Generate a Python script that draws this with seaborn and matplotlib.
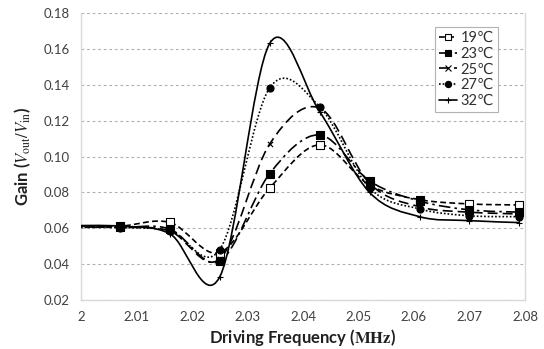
import numpy as np
import pandas as pd
import matplotlib
matplotlib.use("Agg")
import matplotlib.pyplot as plt
import seaborn as sns
from matplotlib.path import Path
from matplotlib.patches import PathPatch
from matplotlib.lines import Line2D

# data (MHz, gain)
freq = [1.998, 2.007, 2.016, 2.025, 2.034, 2.043, 2.052, 2.061, 2.070, 2.079]
g19 = [0.0612, 0.0612, 0.0633, 0.0465, 0.0825, 0.1065, 0.0840, 0.0760, 0.0736, 0.0730]
g23 = [0.0608, 0.0605, 0.0596, 0.0417, 0.0905, 0.1120, 0.0864, 0.0752, 0.0703, 0.0690]
g25 = [0.0606, 0.0606, 0.0585, 0.0430, 0.1070, 0.1270, 0.0850, 0.0720, 0.0690, 0.0680]
g27 = [0.0604, 0.0604, 0.0587, 0.0482, 0.1383, 0.1277, 0.0825, 0.0708, 0.0670, 0.0665]
g32 = [0.0615, 0.0612, 0.0570, 0.0330, 0.1630, 0.1250, 0.0800, 0.0665, 0.0643, 0.0632]
labels = ["19℃", "23℃", "25℃", "27℃", "32℃"]

series = [g19, g23, g25, g27, g32]
markers = ["s", "s", "x", "o", "+"]
faces = ["white", "black", "black", "black", "black"]
dashes = [(0, (3.5, 2)), (0, (7, 2.5, 1.5, 2.5)), (0, (6, 3)), (0, (1, 1.2)), "-"]
msizes = [26, 26, 14, 26, 22]

sns.set_style("white")
plt.rcParams["font.family"] = ["Lato", "DejaVu Sans", "Noto Sans CJK JP"]
plt.rcParams["mathtext.fontset"] = "stix"

fig = plt.figure(figsize=(5.44, 3.49), dpi=100)
ax = fig.add_axes([0.149, 0.140, 0.816, 0.823])


def smooth_path(xs, ys):
    # excel style smoothed line: bezier segments through the points
    pts = list(zip(xs, ys))
    n = len(pts)
    verts = [pts[0]]
    codes = [Path.MOVETO]
    for i in range(n - 1):
        p0 = pts[max(i - 1, 0)]
        p1 = pts[i]
        p2 = pts[i + 1]
        p3 = pts[min(i + 2, n - 1)]
        c1 = (p1[0] + (p2[0] - p0[0]) / 6, p1[1] + (p2[1] - p0[1]) / 6)
        c2 = (p2[0] - (p3[0] - p1[0]) / 6, p2[1] - (p3[1] - p1[1]) / 6)
        verts += [c1, c2, p2]
        codes += [Path.CURVE4] * 3
    return Path(verts, codes)


df = pd.DataFrame({"freq": freq})
for lab, g in zip(labels, series):
    df[lab] = g

handles = []
for lab, m, fc, ls, ms in zip(labels, markers, faces, dashes, msizes):
    patch = PathPatch(smooth_path(df["freq"], df[lab]), fill=False,
                      edgecolor="black", lw=1.2, linestyle=ls, zorder=3)
    ax.add_patch(patch)
    sns.scatterplot(data=df, x="freq", y=lab, marker=m, s=ms, color=fc,
                    edgecolor="black", linewidth=0.8, ax=ax, zorder=4)
    handles.append(Line2D([0], [0], color="black", lw=1.2, linestyle=ls,
                          marker=m, markersize=4.5, markerfacecolor=fc,
                          markeredgecolor="black", markeredgewidth=0.8))

ax.set_xlim(2.0, 2.08)
ax.set_ylim(0.02, 0.18)
xt = np.round(np.arange(2.0, 2.0801, 0.01), 2)
ax.set_xticks(xt)
ax.set_xticklabels(["2"] + [f"{v:.2f}" for v in xt[1:]])
yt = np.round(np.arange(0.02, 0.1801, 0.02), 2)
ax.set_yticks(yt)
ax.set_yticklabels([f"{v:.2f}" for v in yt])
ax.tick_params(axis="both", labelsize=9.5, colors="#404040", length=0, pad=8)

ax.yaxis.grid(True, color="#b0b0b0", linestyle=(0, (2.5, 2.5)), lw=0.8)
ax.xaxis.grid(False)
ax.set_axisbelow(True)
for s in ["left", "bottom", "right"]:
    ax.spines[s].set_color("#d9d9d9")
    ax.spines[s].set_linewidth(1.0)
ax.spines["top"].set_visible(False)

ax.set_xlabel("Driving Frequency (" + r"$\mathbf{MHz}$" + ")", fontsize=12,
              fontweight="bold", color="#202020", labelpad=3)
ax.set_ylabel(r"Gain ($V_{\mathrm{out}}/V_{\mathrm{in}}$)", fontsize=12,
              fontweight="bold", color="#202020", labelpad=8)

leg = ax.legend(handles, labels, loc="upper left", bbox_to_anchor=(0.798, 0.95),
                fontsize=10.5, handlelength=1.25, handletextpad=0.25,
                labelspacing=0.12, borderpad=0.25, borderaxespad=0,
                fancybox=False, frameon=True)
leg.get_frame().set_edgecolor("#a0a0a0")
leg.get_frame().set_linewidth(0.8)
for t in leg.get_texts():
    t.set_color("#303030")

fig.savefig("out.png", dpi=100)
